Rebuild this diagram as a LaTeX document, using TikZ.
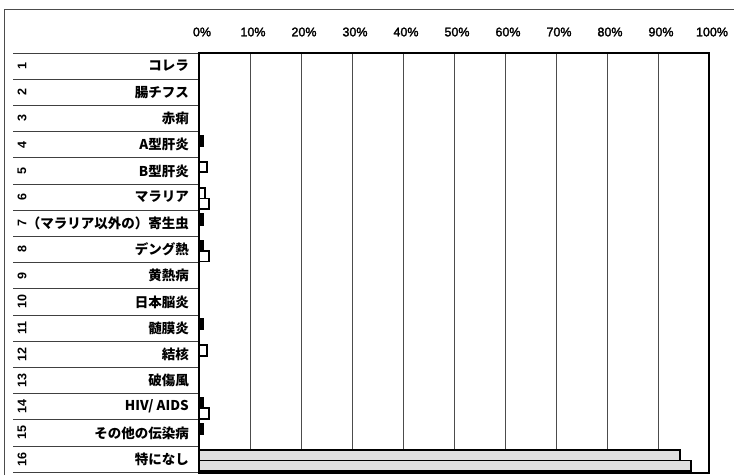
\documentclass[tikz,border=0pt]{standalone}
\usepackage{fontspec}
\setmainfont{Liberation Sans}
\newfontfamily\jpfont{Noto Sans CJK JP}
\newfontfamily\pctfont[FakeBold=2]{Liberation Sans}
\tikzstyle{frame_line}=[draw=black!70, line width=0.8pt]
\tikzstyle{row_line}=[draw=black!75, line width=0.8pt]
\tikzstyle{grid_line}=[draw=black!70, line width=0.7pt]
\tikzstyle{plot_border}=[draw=black, line width=1.5pt]
\tikzstyle{bar_element}=[draw=black, line width=1.8pt, fill=black!12]
\tikzstyle{name_label}=[anchor=east, inner sep=0pt,
                        font=\jpfont\bfseries\fontsize{13.5}{14}\selectfont]
\tikzstyle{num_label}=[rotate=90, inner sep=0pt,
                       font=\bfseries\fontsize{12.5}{13}\selectfont]
\tikzstyle{pct_label}=[inner sep=0pt, font=\pctfont\fontsize{12.5}{13}\selectfont]

\begin{document}
\begin{tikzpicture}[x=1pt, y=-1pt]
    \useasboundingbox (0,0) rectangle (734,475);
    \draw[frame_line] (4,475) -- (4,9) -- (734,9);

    \coordinate (plot_nw) at (199,53);
    \coordinate (plot_se) at (709,473);

    % scale labels and grid
    \foreach \k in {0,...,10} {
      \pgfmathsetmacro{\gx}{199+51*\k}
      \node at (\gx+3, 32) (pct_\k) [pct_label] {\the\numexpr\k*10\relax\%};
      \draw[grid_line] (\gx, 53) -- (\gx, 473);
    }

    % category rows
    \draw[row_line] (13,53) -- (plot_nw);
    \foreach \r/\name in {1/コレラ, 2/腸チフス, 3/赤痢, 4/A型肝炎,
                          5/B型肝炎, 6/マラリア, 7/（マラリア以外の）寄生虫,
                          8/デング熱, 9/黄熱病, 10/日本脳炎, 11/髄膜炎,
                          12/結核, 13/破傷風, 14/{HIV/ AIDS},
                          15/その他の伝染病, 16/特になし} {
      \pgfmathsetmacro{\ry}{53+26.2*\r}
      \node at (22, \ry-13.1) (row_\r) [num_label] {\r};
      \node at (189, \ry-13.1) (name_\r) [name_label] {\name};
      \draw[row_line] (13, \ry) -- (199, \ry);
    }

    \draw[plot_border] (plot_nw) rectangle (plot_se);

    % bars: row / series / percent / fill
    \foreach \r/\s/\v/\c in {4/0/0.8/black, 5/0/1.5/white, 6/0/1.2/white,
                             6/1/2/white, 7/0/0.8/black, 8/0/0.8/black,
                             8/1/2/white, 11/0/0.8/black, 12/0/1.5/white,
                             14/0/0.8/black, 14/1/2/white, 15/0/0.8/black,
                             16/0/94.3/black!12, 16/1/96.5/black!12} {
      \pgfmathsetmacro{\by}{53+26.2*(\r-1)+4+10.5*\s}
      \draw[bar_element, fill=\c] (199, \by) rectangle (199+5.1*\v, \by+10.5);
    }
\end{tikzpicture}
\end{document}
